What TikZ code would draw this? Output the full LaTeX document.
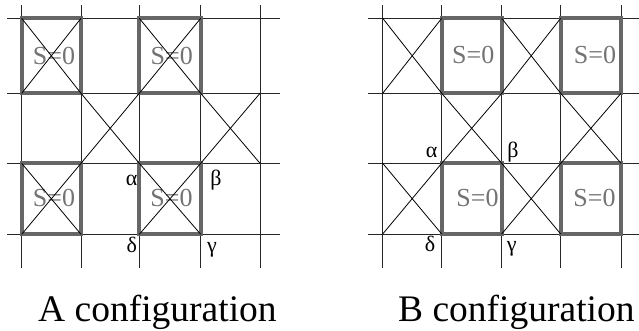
\documentclass[tikz,border=0pt]{standalone}
\usepackage{fontspec}
\setmainfont{Liberation Serif}
\begin{document}
\begin{tikzpicture}[x=1pt,y=-1pt,
  gridline/.style={draw=black!85, line width=0.9pt},
  cross/.style={draw=black, line width=0.8pt},
  zerobox/.style={draw=black!60, line width=3.8pt},
  zerotext/.style={text=black!55, font=\fontsize{26}{26}\selectfont, inner sep=0pt},
  corner/.style={font=\fontsize{22}{22}\selectfont, inner sep=0pt, anchor=base},
  caption/.style={font=\fontsize{37.5}{37.5}\selectfont, inner sep=0pt, anchor=base west}]
\useasboundingbox (0,0) rectangle (639,330);

% ---------- A configuration ----------
\foreach \x in {21.7,81,139.3,200.7,260} \draw[gridline] (\x,5) -- (\x,268);
\foreach \y in {18.3,93.3,163.3,234.3} \draw[gridline] (7,\y) -- (280,\y);

\foreach \xa/\ya/\xb/\yb in {21.7/18.3/81/93.3, 139.3/18.3/200.7/93.3,
                             21.7/163.3/81/234.3, 139.3/163.3/200.7/234.3}
  \draw[zerobox] (\xa,\ya) rectangle (\xb,\yb);

\node[zerotext] (a1) at (54,56) {S=0};
\node[zerotext] (a2) at (171.7,56) {S=0};
\node[zerotext] (a3) at (54,198) {S=0};
\node[zerotext] (a4) at (171.5,198) {S=0};

\foreach \xa/\ya/\xb/\yb in {21.7/18.3/81/93.3, 139.3/18.3/200.7/93.3,
                             81/93.3/139.3/163.3, 200.7/93.3/260/163.3,
                             21.7/163.3/81/234.3, 139.3/163.3/200.7/234.3}
  \draw[cross] (\xa,\ya) -- (\xb,\yb) (\xa,\yb) -- (\xb,\ya);

\node[corner] (aal) at (131.7,185.5) {α};
\node[corner] (abe) at (216,185.5) {β};
\node[corner] (ade) at (131.7,252) {δ};
\node[corner] (aga) at (212,252) {γ};

\node[caption] (capA) at (38,321) {A configuration};

% ---------- B configuration ----------
\foreach \x in {382.7,441.7,501.7,560.7,621} \draw[gridline] (\x,5) -- (\x,268);
\foreach \y in {18.3,93.3,163.3,234} \draw[gridline] (368,\y) -- (639,\y);

\foreach \xa/\ya/\xb/\yb in {441.7/18.3/501.7/93.3, 560.7/18.3/621/93.3,
                             441.7/163.3/501.7/234, 560.7/163.3/621/234}
  \draw[zerobox] (\xa,\ya) rectangle (\xb,\yb);

\node[zerotext] (b1) at (473.3,55) {S=0};
\node[zerotext] (b2) at (595,55) {S=0};
\node[zerotext] (b3) at (477.5,198) {S=0};
\node[zerotext] (b4) at (594.5,198) {S=0};

\foreach \xa/\ya/\xb/\yb in {382.7/18.3/441.7/93.3, 501.7/18.3/560.7/93.3,
                             441.7/93.3/501.7/163.3, 560.7/93.3/621/163.3,
                             382.7/163.3/441.7/234, 501.7/163.3/560.7/234}
  \draw[cross] (\xa,\ya) -- (\xb,\yb) (\xa,\yb) -- (\xb,\ya);

\node[corner] (bal) at (431.7,157) {α};
\node[corner] (bbe) at (513,157) {β};
\node[corner] (bde) at (430,251) {δ};
\node[corner] (bga) at (511.7,251) {γ};

\node[caption] (capB) at (398,321) {B configuration};
\end{tikzpicture}
\end{document}
